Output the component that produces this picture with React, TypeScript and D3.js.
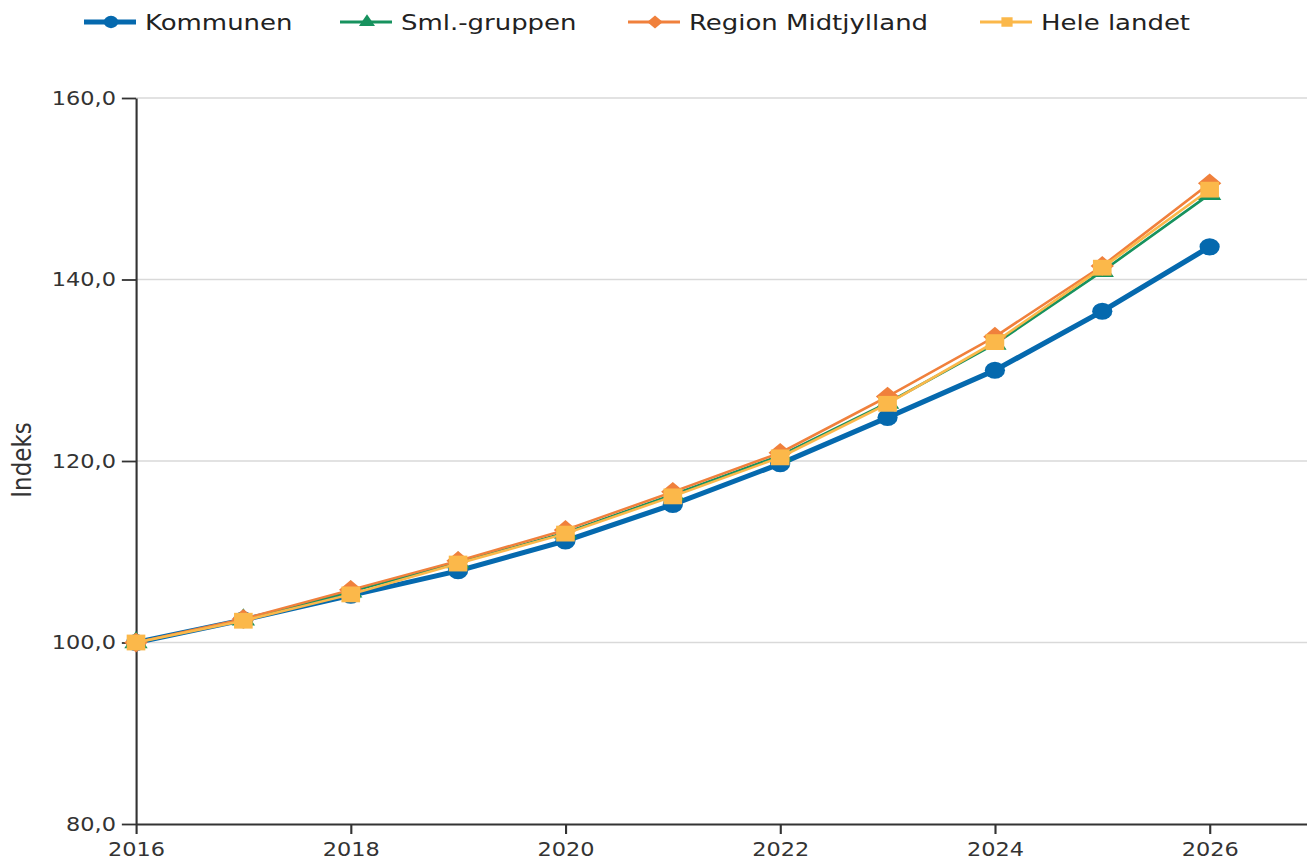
// Indeks-udvikling 2016-2026 — fire serier med markører, D3 via ref
import React, { useEffect, useRef } from 'react';
import * as d3 from 'd3';

const years = [2016, 2017, 2018, 2019, 2020, 2021, 2022, 2023, 2024, 2025, 2026];
const kommunen = [100.0, 102.5, 105.2, 107.9, 111.2, 115.2, 119.7, 124.8, 130.0, 136.5, 143.6];
const smlGruppen = [100.0, 102.5, 105.6, 108.8, 112.1, 116.3, 120.6, 126.4, 132.9, 140.9, 149.4];
const regionMidt = [100.0, 102.6, 105.8, 109.0, 112.4, 116.6, 120.9, 127.1, 133.7, 141.5, 150.6];
const heleLandet = [100.0, 102.4, 105.3, 108.7, 112.0, 116.1, 120.4, 126.3, 133.1, 141.3, 149.9];
const yTicks = [80, 100, 120, 140, 160];
const xTicks = [2016, 2018, 2020, 2022, 2024, 2026];

// billedet er strakt vandret
const S = 1.18;
const W = 1307;
const H = 860;

const diamond = (d3 as any).symbolDiamond2 || d3.symbolDiamond;

const series = [
  { name: 'Kommunen', values: kommunen, color: '#0569ae', width: 5, symbol: d3.symbolCircle, size: 230, legSize: 120 },
  { name: 'Sml.-gruppen', values: smlGruppen, color: '#17925e', width: 2.5, symbol: d3.symbolTriangle, size: 170, legSize: 80 },
  { name: 'Region Midtjylland', values: regionMidt, color: '#f0803c', width: 2.5, symbol: diamond, size: 250, legSize: 110 },
  { name: 'Hele landet', values: heleLandet, color: '#fbb84a', width: 2.5, symbol: d3.symbolSquare, size: 250, legSize: 90 },
];

// legendens startpunkter i pixels
const legendX = [84, 340, 628, 980];

const App: React.FC = () => {
  const svgRef = useRef<SVGSVGElement>(null);

  useEffect(() => {
    if (!svgRef.current) return;
    const svg = d3.select(svgRef.current);
    svg.selectAll('*').remove();

    const x = d3.scaleLinear().domain([2016, 2027]).range([136 / S, 1317 / S]);
    const y = d3.scaleLinear().domain([80, 160]).range([824, 98]);

    const locale = d3.formatLocale({ decimal: ',', thousands: '.', grouping: [3], currency: ['', ''] });
    const fmt = locale.format('.1f');

    // Gitterlinjer
    svg.append('g')
      .selectAll('line')
      .data(yTicks.filter((t) => t > 80))
      .enter()
      .append('line')
      .attr('x1', x(2016))
      .attr('x2', W / S)
      .attr('y1', (d) => y(d))
      .attr('y2', (d) => y(d))
      .attr('stroke', '#d9d9d9')
      .attr('stroke-width', 1.3);

    // Y-akse
    const yAxis = svg.append('g')
      .attr('transform', `translate(${x(2016)},0)`)
      .call(d3.axisLeft(y).tickValues(yTicks).tickFormat((d) => fmt(d as number)).tickSize(12).tickSizeOuter(0).tickPadding(5));
    yAxis.selectAll('text')
      .attr('font-family', 'DejaVu Sans, Verdana, sans-serif')
      .attr('font-size', 19)
      .attr('fill', '#333');

    // X-akse
    const xAxis = svg.append('g')
      .attr('transform', `translate(0,${y(80)})`)
      .call(d3.axisBottom(x).tickValues(xTicks).tickFormat((d) => String(d)).tickSize(10).tickSizeOuter(0).tickPadding(9));
    xAxis.selectAll('text')
      .attr('font-family', 'DejaVu Sans, Verdana, sans-serif')
      .attr('font-size', 19)
      .attr('fill', '#333');

    svg.selectAll('.domain, .tick line').attr('stroke', '#333').attr('stroke-width', 1.8);

    // Akse-titel
    svg.append('text')
      .attr('transform', `translate(${31 / S},460) rotate(-90)`)
      .attr('text-anchor', 'middle')
      .attr('font-family', 'DejaVu Sans, Verdana, sans-serif')
      .attr('font-size', 23)
      .attr('fill', '#333')
      .text('Indeks');

    // Serier
    series.forEach((s) => {
      const pts = years.map((yr, i) => ({ yr, v: s.values[i] }));
      const line = d3.line<{ yr: number; v: number }>()
        .x((d) => x(d.yr))
        .y((d) => y(d.v));
      svg.append('path')
        .datum(pts)
        .attr('fill', 'none')
        .attr('stroke', s.color)
        .attr('stroke-width', s.width)
        .attr('stroke-linejoin', 'round')
        .attr('d', line);
      svg.append('g')
        .selectAll('path')
        .data(pts)
        .enter()
        .append('path')
        .attr('transform', (d) => `translate(${x(d.yr)},${y(d.v)})`)
        .attr('d', d3.symbol().type(s.symbol).size(s.size)())
        .attr('fill', s.color);
    });

    // Legende
    const leg = svg.append('g');
    series.forEach((s, i) => {
      const x0 = legendX[i] / S;
      const g = leg.append('g').attr('transform', `translate(${x0},22)`);
      g.append('line')
        .attr('x1', 0)
        .attr('x2', 52 / S)
        .attr('stroke', s.color)
        .attr('stroke-width', i === 0 ? 5 : 3);
      g.append('path')
        .attr('transform', `translate(${27 / S},0)`)
        .attr('d', d3.symbol().type(s.symbol).size(s.legSize)())
        .attr('fill', s.color);
      g.append('text')
        .attr('x', 61 / S)
        .attr('dy', '0.36em')
        .attr('font-family', 'DejaVu Sans, Verdana, sans-serif')
        .attr('font-size', 22)
        .attr('fill', '#222')
        .text(s.name);
    });
  }, []);

  return (
    <div style={{ position: 'absolute', top: 0, left: 0, width: W, height: H, background: '#fff' }}>
      <svg ref={svgRef} width={W} height={H} viewBox={`0 0 ${W / S} ${H}`} preserveAspectRatio="none" />
    </div>
  );
};

export default App;
